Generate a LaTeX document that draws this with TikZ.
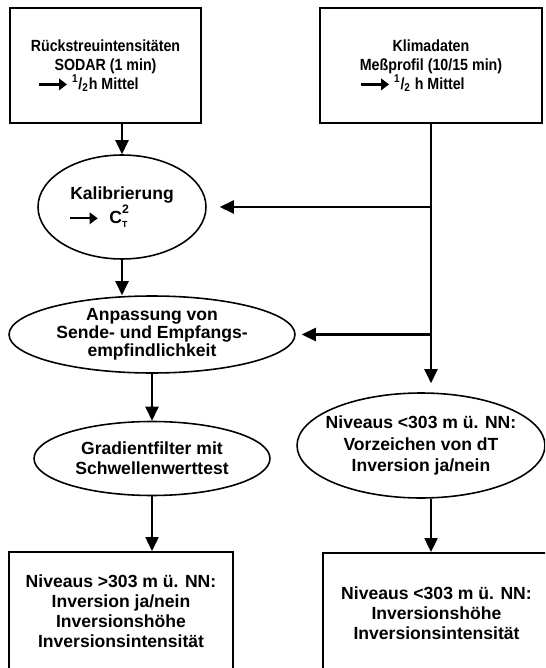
\documentclass[tikz,border=0pt]{standalone}
\usepackage{fontspec}
\setmainfont{Liberation Sans}
\newfontfamily\narrowsans{Liberation Sans}[FakeStretch=0.88]
\usepackage{calc}
\usetikzlibrary{shapes.geometric,arrows.meta}
\newcommand{\fatarrow}{\tikz[baseline=-0.55ex]\draw[line width=1.3pt,-{Triangle[length=4.5pt,width=6.5pt]}] (0,0) -- (0.56cm,0);}
\newcommand{\halfh}{\textsuperscript{1}/\textsubscript{2}}
\tikzset{
  databox/.style={draw, line width=1.1pt, rectangle, align=center, inner sep=0pt,
    font=\bfseries\fontsize{10}{11.3}\selectfont},
  topbox/.style={databox, font=\narrowsans\bfseries\fontsize{9.2}{10.8}\selectfont},
  proc/.style={draw, ellipse, line width=0.9pt, align=center, inner xsep=-8pt, inner ysep=-4pt,
    font=\bfseries\fontsize{10}{11.5}\selectfont},
  flow/.style={line width=1.3pt, -{Triangle[length=0.28cm,width=0.26cm]}},
}

\begin{document}
\begin{tikzpicture}[x=0.02cm, y=-0.02cm]
  \clip (0,0) rectangle (545,668);

  % inputs
  \node[topbox, minimum width=3.82cm, minimum height=2.3cm] (sodar) at (105.5,65.5)
    {R\"uckstreuintensit\"aten\\ SODAR (1 min)\\
     \makebox[\widthof{R\"uckstreuintensit\"aten}][l]{\hspace{4pt}\fatarrow\ \halfh h Mittel}};
  \node[topbox, minimum width=4.44cm, minimum height=2.3cm] (klima) at (431,65.5)
    {Klimadaten\\ Me\ss profil (10/15 min)\\
     \makebox[\widthof{Me\ss profil (10/15 min)}][l]{\fatarrow\ \halfh\ h Mittel}};

  % processing
  \node[proc, minimum width=3.36cm, minimum height=2.08cm] (calib) at (122,207)
    {Kalibrierung\\
     \makebox[\widthof{Kalibrierung}][l]{\hspace{-1pt}\fatarrow\hspace{6pt}C\rlap{\raisebox{1.1ex}{\scriptsize 2}}\raisebox{-0.45ex}{\tiny T}}};
  \node[proc, minimum width=5.72cm, minimum height=1.54cm,
    font=\bfseries\fontsize{10}{10.4}\selectfont] (adjust) at (152,334.5)
    {Anpassung von\\ Sende- und Empfangs-\\ empfindlichkeit};
  \node[proc, minimum width=4.72cm, minimum height=1.48cm] (gradfilter) at (152,458.5)
    {Gradientfilter mit\\ Schwellenwerttest};
  \node[proc, minimum width=4.96cm, minimum height=2.1cm,
    font=\bfseries\fontsize{10}{12.3}\selectfont] (sign) at (421,445.5)
    {Niveaus <303 m \"u. NN:\\ Vorzeichen von dT\\ Inversion ja/nein};

  % results
  \node[databox, minimum width=4.48cm, minimum height=2.36cm] (resleft) at (121,611)
    {Niveaus >303 m \"u. NN:\\ Inversion ja/nein\\ Inversionsh\"ohe\\ Inversionsintensit\"at};
  \node[databox, minimum width=4.54cm, minimum height=2.4cm] (resright) at (436.5,613)
    {Niveaus <303 m \"u. NN:\\ Inversionsh\"ohe\\ Inversionsintensit\"at};

  % left chain
  \draw[flow] (sodar.south -| calib) -- (calib);
  \draw[flow] (calib) -- (calib.south |- adjust.north);
  \draw[flow] (adjust) -- (gradfilter);
  \draw[flow] (gradfilter.south) -- (gradfilter.south |- resleft.north);

  % right chain
  \draw[flow, shorten >=0.18cm] (klima.south) -- (klima.south |- sign.north);
  \draw[flow, shorten >=0.26cm] (klima.south |- calib.east) -- (calib.east);
  \draw[flow, shorten >=0.12cm] (klima.south |- adjust.east) -- (adjust.east);
  \draw[flow] (klima.south |- sign.south) -- (klima.south |- resright.north);
\end{tikzpicture}
\end{document}
